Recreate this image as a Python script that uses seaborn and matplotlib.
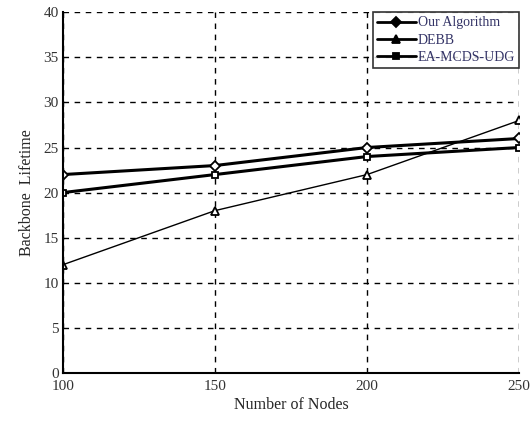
import matplotlib
matplotlib.use("Agg")
import matplotlib.pyplot as plt
import seaborn as sns
import pandas as pd

nodes = [100, 150, 200, 250]
our_algorithm = [22, 23, 25, 26]
debb = [12, 18, 22, 28]
ea_mcds_udg = [20, 22, 24, 25]
series_names = ["Our Algorithm", "DEBB", "EA-MCDS-UDG"]

df = pd.DataFrame({
    "Nodes": nodes * 3,
    "Lifetime": our_algorithm + debb + ea_mcds_udg,
    "Series": [series_names[0]] * 4 + [series_names[1]] * 4 + [series_names[2]] * 4,
})

sns.set_style("white")
plt.rcParams["font.family"] = ["Liberation Serif", "DejaVu Serif"]

fig = plt.figure(figsize=(5.32, 4.21), dpi=100)
ax = fig.add_axes([0.118, 0.114, 0.858, 0.857])

styles = {
    "Our Algorithm": dict(marker="D", lw=2.2, ms=5),
    "DEBB": dict(marker="^", lw=1.0, ms=6),
    "EA-MCDS-UDG": dict(marker="s", lw=2.2, ms=5),
}
for name in series_names:
    sub = df[df["Series"] == name]
    st = styles[name]
    sns.lineplot(data=sub, x="Nodes", y="Lifetime", ax=ax, color="black",
                 marker=st["marker"], linewidth=st["lw"], markersize=st["ms"],
                 markerfacecolor="white", markeredgecolor="black", markeredgewidth=1.3,
                 label=name)

ax.set_xlim(100, 250)
ax.set_ylim(0, 40)
ax.set_xticks(nodes)
ax.set_yticks(range(0, 41, 5))
ax.grid(True, color="black", linestyle=(0, (4, 4)), linewidth=1.0)
for s in ["top", "right"]:
    ax.spines[s].set_visible(False)
for s in ["left", "bottom"]:
    ax.spines[s].set_color("black")
    ax.spines[s].set_linewidth(1.5)
ax.tick_params(axis="both", labelsize=11, colors="#333333", length=0)
ax.tick_params(axis="x", pad=5)
ax.tick_params(axis="y", pad=3)
ax.set_xlabel("Number of Nodes", fontsize=11.5, labelpad=3)
ax.set_ylabel("Backbone  Lifetime", fontsize=11.5, labelpad=6)

leg = ax.legend(loc="upper right", fontsize=10, frameon=True, fancybox=False,
                edgecolor="black", borderpad=0.3, labelspacing=0.3, handlelength=2.8,
                handletextpad=0.15, borderaxespad=0.0)
leg.get_frame().set_linewidth(1.2)
for h in leg.get_lines():
    h.set_markerfacecolor("black")
    h.set_linewidth(2)
for t in leg.get_texts():
    t.set_color("#333366")

fig.savefig("out.png", dpi=100)
